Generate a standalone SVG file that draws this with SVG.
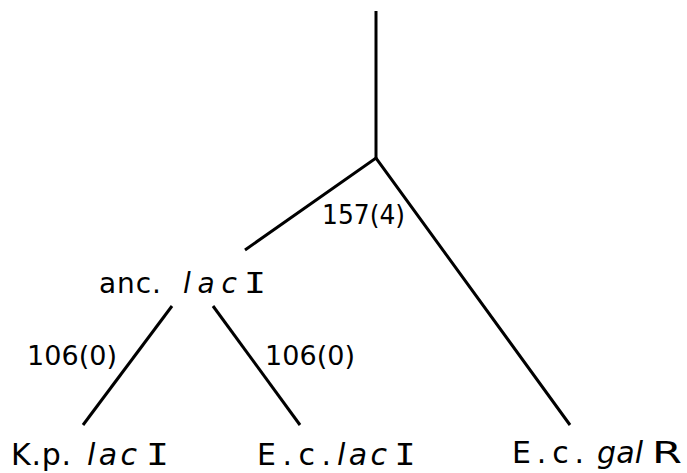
<svg xmlns="http://www.w3.org/2000/svg" width="687" height="473" viewBox="0 0 687 473">
<style>
.ln{stroke:#000;stroke-width:3;fill:none;stroke-linecap:butt}
.t{font-family:"DejaVu Sans","Liberation Sans",Arial,sans-serif;fill:#000}
.it{font-style:italic}
.rm{font-family:"DejaVu Sans Mono","Liberation Mono",monospace;fill:#000}
.lb{font-size:30px}
.la{font-size:28px}
.nm{font-size:27px}
</style>
<rect width="687" height="473" fill="#fff"/>
<g id="connectors">
<line class="ln" x1="376" y1="11" x2="376" y2="159"/>
<polyline class="ln" points="245,250 376,158 570,425"/>
<line class="ln" x1="172" y1="306" x2="83" y2="425"/>
<line class="ln" x1="213" y1="306" x2="300" y2="425"/>
</g>
<g id="edge-labels">
<text class="t nm" x="322" y="224" textLength="83" lengthAdjust="spacingAndGlyphs">157(4)</text>
<text class="t nm" x="27" y="365" textLength="90" lengthAdjust="spacing">106(0)</text>
<text class="t nm" x="265" y="365" textLength="90" lengthAdjust="spacing">106(0)</text>
</g>
<g id="anc-lacI">
<text class="t la" x="99" y="293" textLength="62" lengthAdjust="spacing">anc.</text>
<text class="t la it" x="183" y="293" textLength="54" lengthAdjust="spacing">lac</text>
<text class="rm la" x="244" y="293" textLength="22" lengthAdjust="spacingAndGlyphs">I</text>
</g>
<g id="kp-lacI">
<text class="t lb" x="11" y="465" textLength="60" lengthAdjust="spacing">K.p.</text>
<text class="t lb it" x="87" y="465" textLength="50" lengthAdjust="spacing">lac</text>
<text class="rm lb" x="146" y="465" textLength="23" lengthAdjust="spacingAndGlyphs">I</text>
</g>
<g id="ec-lacI">
<text class="t lb" x="257" y="465" textLength="74" lengthAdjust="spacing">E.c.</text>
<text class="t lb it" x="337" y="465" textLength="50" lengthAdjust="spacing">lac</text>
<text class="rm lb" x="394.5" y="465" textLength="21" lengthAdjust="spacingAndGlyphs">I</text>
</g>
<g id="ec-galR">
<text class="t lb" x="512" y="463" textLength="72" lengthAdjust="spacing">E.c.</text>
<text class="t lb it" x="597" y="463" textLength="46" lengthAdjust="spacing">gal</text>
<text class="t lb" x="652" y="463" textLength="30" lengthAdjust="spacingAndGlyphs">R</text>
</g>
</svg>
